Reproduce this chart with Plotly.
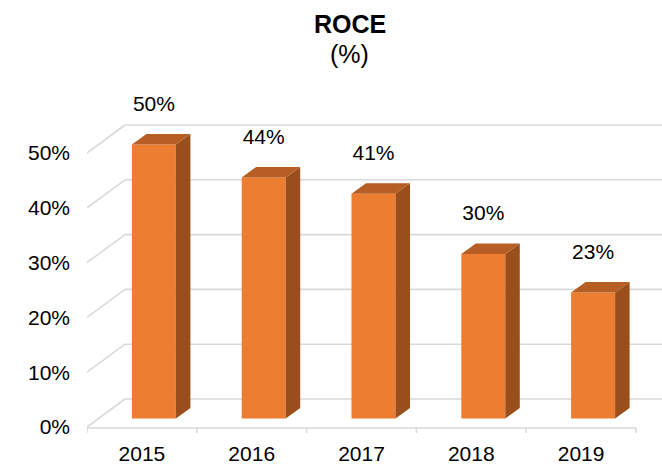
import plotly.graph_objects as go

# ---- data ----
years = ["2015", "2016", "2017", "2018", "2019"]
roce = [50, 44, 41, 30, 23]
y_ticks = [0, 10, 20, 30, 40, 50]
y_tick_labels = [f"{t}%" for t in y_ticks]

# ---- layout geometry ----
W, H = 662, 465
ML, MR, MT, MB = 87, 0, 0, 32
PX_X = 109.8      # px per category
PX_Y = 5.48       # px per percent
plot_w = W - ML - MR
plot_h = H - MT - MB
FRONT0_PX = 427   # px (from plot top) of front 0% line

x0 = -0.5
x1 = x0 + plot_w / PX_X
y_lo = (FRONT0_PX - plot_h) / PX_Y
y_hi = FRONT0_PX / PX_Y


def dx(px):
    return px / PX_X


def dy(px):
    return px / PX_Y


WALL_X, WALL_Y = dx(38), dy(28)          # back wall depth offset
FRONT_X, FRONT_Y = dx(12), dy(8.5)        # bar front plane offset
DEPTH_X, DEPTH_Y = dx(14.5), dy(10.5)     # bar depth
BAR_W = dx(44)

C_FRONT = "#ED7D31"
C_TOP = "#B65E23"
C_SIDE = "#9A4E1C"
C_GRID = "#D9D9D9"
FONT = "Liberation Sans, Arial"

idx = list(range(len(years)))

fig = go.Figure()

# front faces
fig.add_trace(go.Bar(
    x=[i + FRONT_X for i in idx], y=roce, base=FRONT_Y, width=BAR_W,
    marker=dict(color=C_FRONT, line=dict(width=0)),
    hoverinfo="skip", showlegend=False,
))

# side and top faces
side_x, side_y, top_x, top_y = [], [], [], []
for i, v in zip(idx, roce):
    xl = i + FRONT_X - BAR_W / 2
    xr = i + FRONT_X + BAR_W / 2
    yb = FRONT_Y
    yt = FRONT_Y + v
    side_x += [xr, xr + DEPTH_X, xr + DEPTH_X, xr, xr, None]
    side_y += [yb, yb + DEPTH_Y, yt + DEPTH_Y, yt, yb, None]
    top_x += [xl, xr, xr + DEPTH_X, xl + DEPTH_X, xl, None]
    top_y += [yt, yt, yt + DEPTH_Y, yt + DEPTH_Y, yt, None]

fig.add_trace(go.Scatter(x=side_x, y=side_y, mode="lines", fill="toself",
                         fillcolor=C_SIDE, line=dict(width=0, color=C_SIDE),
                         hoverinfo="skip", showlegend=False))
fig.add_trace(go.Scatter(x=top_x, y=top_y, mode="lines", fill="toself",
                         fillcolor=C_TOP, line=dict(width=0, color=C_TOP),
                         hoverinfo="skip", showlegend=False))

# data labels
fig.add_trace(go.Scatter(
    x=[i + FRONT_X for i in idx], y=[v + FRONT_Y + dy(39) for v in roce],
    mode="text", text=[f"{v}%" for v in roce], textposition="middle center",
    textfont=dict(family=FONT, size=21, color="#000000"),
    hoverinfo="skip", showlegend=False,
))

# gridlines (floor diagonal + back wall)
shapes = []
for t in y_ticks:
    shapes.append(dict(type="line", xref="x", yref="y", layer="below",
                       x0=x0, y0=t, x1=x0 + WALL_X, y1=t + WALL_Y,
                       line=dict(color=C_GRID, width=1.6)))
    shapes.append(dict(type="line", xref="x", yref="y", layer="below",
                       x0=x0 + WALL_X, y0=t + WALL_Y, x1=x1, y1=t + WALL_Y,
                       line=dict(color=C_GRID, width=1.6)))

# x axis line and separator ticks
y_axis_line = dy(-1)
shapes.append(dict(type="line", xref="x", yref="y", layer="below",
                   x0=x0, y0=y_axis_line, x1=len(years) - 0.5, y1=y_axis_line,
                   line=dict(color=C_GRID, width=1.6)))
for k in range(len(years) + 1):
    shapes.append(dict(type="line", xref="x", yref="y", layer="below",
                       x0=k - 0.5, y0=y_axis_line, x1=k - 0.5, y1=y_lo,
                       line=dict(color=C_GRID, width=1.6)))

fig.update_layout(
    width=W, height=H,
    margin=dict(l=ML, r=MR, t=MT, b=MB, autoexpand=False),
    paper_bgcolor="white", plot_bgcolor="white",
    shapes=shapes,
    showlegend=False,
    font=dict(family=FONT, size=21, color="#000000"),
    xaxis=dict(range=[x0, x1], tickvals=idx, ticktext=years, ticks="",
               showgrid=False, zeroline=False, showline=False,
               ticklabelstandoff=6, fixedrange=True, automargin=False),
    yaxis=dict(range=[y_lo, y_hi], tickvals=y_ticks, ticktext=y_tick_labels,
               ticks="", showgrid=False, zeroline=False, showline=False,
               ticklabelstandoff=16, fixedrange=True, automargin=False),
    annotations=[
        dict(text="<b>ROCE</b>", xref="paper", yref="paper",
             x=(349.5 - ML) / plot_w, y=1 - 24 / plot_h,
             xanchor="center", yanchor="middle", showarrow=False,
             font=dict(family=FONT, size=25, color="#000000")),
        dict(text="(%)", xref="paper", yref="paper",
             x=(349.5 - ML) / plot_w, y=1 - 54 / plot_h,
             xanchor="center", yanchor="middle", showarrow=False,
             font=dict(family=FONT, size=25, color="#000000")),
    ],
)

fig.write_html("out.html", config={"displayModeBar": False},
               post_script="document.body.style.margin='0';"
                           "document.body.style.overflow='hidden';")
